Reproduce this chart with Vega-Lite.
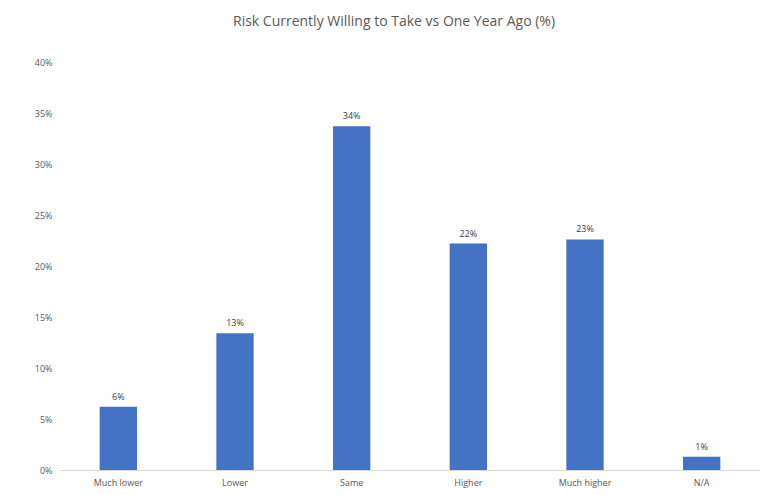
{
  "$schema": "https://vega.github.io/schema/vega-lite/v6.json",
  "autosize": "none",
  "width": 700,
  "height": 408,
  "padding": {"left": 60, "top": 62, "right": 10, "bottom": 25},
  "background": "white",
  "title": {
    "text": "Risk Currently Willing to Take vs One Year Ago (%)",
    "font": "Open Sans",
    "fontSize": 14,
    "fontWeight": "normal",
    "color": "#595959",
    "anchor": "middle",
    "dx": -16,
    "offset": 29
  },
  "data": {
    "values": [
      {"category": "Much lower", "value": 0.062},
      {"category": "Lower", "value": 0.134},
      {"category": "Same", "value": 0.337},
      {"category": "Higher", "value": 0.222},
      {"category": "Much higher", "value": 0.226},
      {"category": "N/A", "value": 0.013}
    ]
  },
  "config": {
    "view": {"stroke": null},
    "axis": {"labelFont": "Open Sans", "labelColor": "#595959", "labelFontSize": 9}
  },
  "encoding": {
    "x": {
      "field": "category",
      "type": "nominal",
      "sort": null,
      "scale": {"paddingInner": 0.68, "paddingOuter": 0.34},
      "axis": {"title": null, "labelAngle": 0, "ticks": false, "domainColor": "#d9d9d9", "labelPadding": 8, "grid": false}
    },
    "y": {
      "field": "value",
      "type": "quantitative",
      "scale": {"domain": [0, 0.4]},
      "axis": {"title": null, "format": ".0%", "values": [0, 0.05, 0.1, 0.15, 0.2, 0.25, 0.3, 0.35, 0.4], "domain": false, "ticks": false, "grid": false, "labelPadding": 8}
    }
  },
  "layer": [
    {"mark": {"type": "bar", "color": "#4472C4"}},
    {
      "mark": {"type": "text", "dy": -10, "font": "Open Sans", "fontSize": 9, "color": "#404040"},
      "encoding": {"text": {"field": "value", "type": "quantitative", "format": ".0%"}}
    }
  ]
}
